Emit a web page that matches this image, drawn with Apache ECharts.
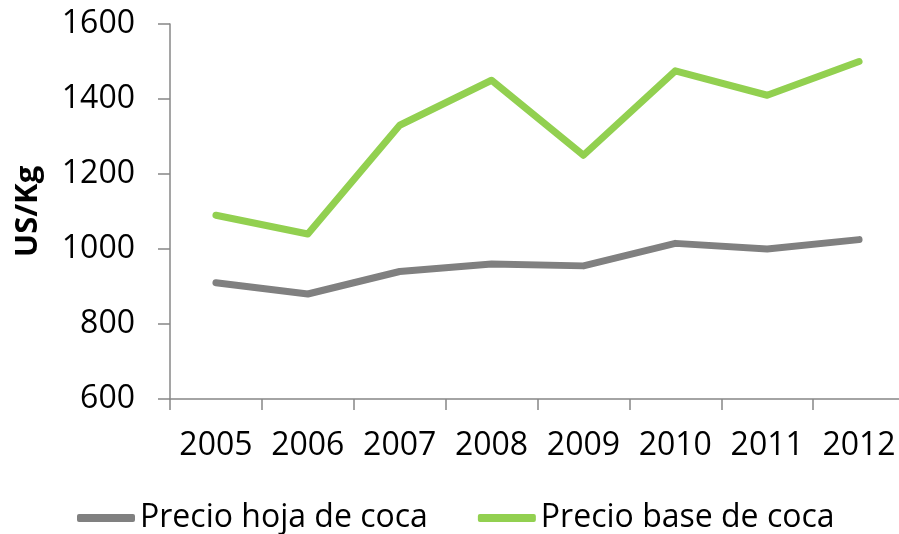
<!DOCTYPE html>
<html>
<head>
<meta charset="utf-8">
<script src="https://cdn.jsdelivr.net/npm/echarts@6/dist/echarts.min.js"></script>
<style>
  html, body { margin: 0; padding: 0; background: #fff; overflow: hidden; }
  #chart { width: 905px; height: 534px; }
</style>
</head>
<body>
<div id="chart"></div>
<script>
  var years = ['2005', '2006', '2007', '2008', '2009', '2010', '2011', '2012'];
  var hojaCoca = [910, 880, 940, 960, 955, 1015, 1000, 1025];
  var baseCoca = [1090, 1040, 1330, 1450, 1250, 1475, 1410, 1500];
  var seriesNames = ['Precio hoja de coca', 'Precio base de coca'];

  var axisColor = '#878787';
  var fontName = 'Open Sans';

  var myChart = echarts.init(document.getElementById('chart'));
  var option = {
    animation: false,
    backgroundColor: '#fff',
    grid: {
      left: 170,
      right: 0,
      top: 24,
      bottom: 135
    },
    legend: {
      top: 497,
      left: 72,
      itemWidth: 58,
      itemHeight: 8,
      itemGap: 50,
      icon: 'roundRect',
      textStyle: {
        fontFamily: fontName,
        fontSize: 32,
        color: '#000'
      },
      data: seriesNames
    },
    xAxis: {
      type: 'category',
      data: years,
      boundaryGap: true,
      axisLine: { lineStyle: { color: axisColor, width: 1.5 } },
      axisTick: { show: true, interval: 0, length: 11, lineStyle: { color: axisColor, width: 1.5 } },
      axisLabel: {
        interval: 0,
        color: '#000',
        fontFamily: fontName,
        fontSize: 32,
        margin: 31
      }
    },
    yAxis: {
      type: 'value',
      min: 600,
      max: 1600,
      interval: 200,
      name: 'US/Kg',
      nameLocation: 'middle',
      nameGap: 126,
      nameRotate: 90,
      nameTextStyle: {
        fontFamily: fontName,
        fontWeight: 'bold',
        fontSize: 31,
        color: '#000'
      },
      axisLine: { show: true, lineStyle: { color: axisColor, width: 1.5 } },
      axisTick: { show: true, length: 12, lineStyle: { color: axisColor, width: 1.5 } },
      splitLine: { show: false },
      axisLabel: {
        color: '#000',
        fontFamily: fontName,
        fontSize: 32,
        margin: 35,
        formatter: function (v) { return String(v); }
      }
    },
    series: [
      {
        name: seriesNames[0],
        type: 'line',
        data: hojaCoca,
        symbol: 'none',
        color: '#808080',
        lineStyle: { width: 7, color: '#808080', cap: 'round', join: 'round' }
      },
      {
        name: seriesNames[1],
        type: 'line',
        data: baseCoca,
        symbol: 'none',
        color: '#92D050',
        lineStyle: { width: 7, color: '#92D050', cap: 'round', join: 'round' }
      }
    ]
  };
  myChart.setOption(option);
</script>
</body>
</html>
